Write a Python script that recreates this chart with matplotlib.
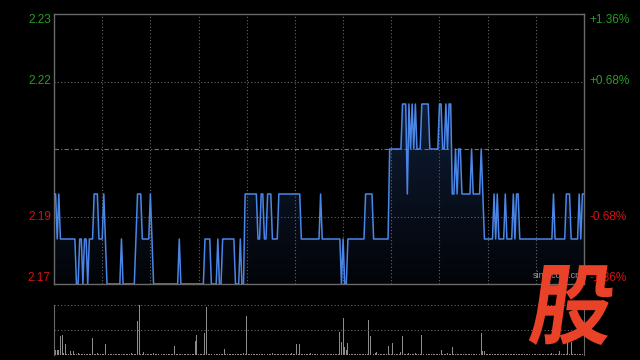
import numpy as np
import matplotlib
matplotlib.use('Agg')
import matplotlib.pyplot as plt
from matplotlib.colors import LinearSegmentedColormap
from matplotlib.patches import Polygon, PathPatch
from matplotlib.textpath import TextPath
from matplotlib.font_manager import FontProperties
from matplotlib.transforms import Affine2D

plt.rcParams['font.family'] = ['Liberation Sans', 'DejaVu Sans']

# price levels seen on the chart
levels = [2.175, 2.185, 2.195, 2.205, 2.215]
# run-length reading of the minute line (level index, number of minutes)
run_level = [2, 1, 2, 1, 0, 1, 0, 1, 0, 1, 2, 1, 2, 1, 0, 1, 0, 1, 2, 1, 2, 1,
             0, 1, 0, 1, 0, 1, 0, 1, 0, 1, 0, 2, 1, 2, 1, 2, 1, 2, 1, 2, 1,
             0, 1, 0, 1, 2, 1, 3, 4, 2, 4, 3, 4, 3, 4, 3, 4, 3, 4, 3, 4, 3,
             4, 2, 3, 2, 3, 2, 3, 2, 3, 2, 1, 2, 1, 2, 1, 2, 1, 2, 1, 2, 1,
             2, 1, 2, 1, 2, 1, 2]
run_len = [2, 1, 1, 10, 2, 2, 1, 2, 1, 3, 3, 3, 1, 1, 9, 1, 8, 1, 3, 5, 1, 1,
           16, 1, 15, 4, 4, 1, 2, 8, 3, 1, 2, 8, 2, 2, 2, 3, 4, 14, 12, 1, 12,
           1, 1, 2, 11, 5, 10, 8, 3, 1, 1, 1, 1, 1, 1, 3, 5, 6, 2, 2, 1, 1,
           2, 2, 1, 1, 2, 6, 1, 5, 1, 1, 6, 1, 1, 1, 4, 1, 4, 1, 1, 2, 21,
           1, 7, 3, 5, 1, 1, 2]
price = np.repeat(np.array(levels)[run_level], run_len)
prev_close = 2.205

y_ticks = [2.235, 2.22, 2.19, 2.175]
y_labels = ['2.23', '2.22', '2.19', '2.17']
pct_labels = ['+1.36%', '+0.68%', '-0.68%', '-1.36%']

# volume (top dotted line = 100), minutes not listed are tiny
vol_minute = [0, 1, 2, 3, 4, 5, 6, 7, 10, 12, 15, 24, 27, 32, 33, 48, 52, 53, 56,
              62, 75, 88, 89, 94, 95, 99, 106, 118, 120, 136, 148, 151, 153, 160,
              178, 179, 180, 181, 182, 183, 196, 197, 200, 201, 208, 211, 216,
              217, 221, 225, 229, 241, 245, 248, 266, 267, 268, 310, 315, 320, 322]
vol_value = [11, 11, 11, 11, 39, 41, 4, 23, 8, 9, 4, 35, 5, 23, 15, 5, 69, 100, 7,
             5, 19, 29, 41, 44, 97, 5, 13, 5, 79, 4, 4, 23, 23, 4,
             47, 27, 75, 17, 11, 25, 71, 39, 4, 7, 19, 25, 7,
             39, 5, 4, 41, 11, 4, 17, 45, 9, 9, 4, 9, 27, 27]
vol_small = 2

n = len(price)
x = np.arange(n)
volume = np.full(n, vol_small, dtype=float)
volume[vol_minute] = vol_value

fig = plt.figure(figsize=(6.4, 3.6), dpi=100, facecolor='black')
W, H = 640, 360

ax = fig.add_axes([54 / W, 76 / H, 530 / W, 270 / H])
ax.set_facecolor('black')

# gradient fill under the line
verts = np.column_stack([np.r_[x, x[::-1]], np.r_[price, np.full(n, levels[0])]])
clip = Polygon(verts, closed=True, facecolor='none', edgecolor='none')
ax.add_patch(clip)
cmap = LinearSegmentedColormap.from_list('fill', ['#020408', '#101d36'])
grad = np.linspace(0, 1, 256).reshape(-1, 1)
im = ax.imshow(grad, extent=[0, n - 1, levels[0], levels[-1]], origin='lower',
               aspect='auto', cmap=cmap, zorder=1)
im.set_clip_path(clip)

ax.plot(x, price, color='#4a86e8', lw=1.1, zorder=3)

grid_c = '#666666'
for xv in range(30, 330, 30):
    ax.axvline(xv, color=grid_c, lw=0.8, ls=(0, (1, 2)), zorder=2)
for yv in [2.22, 2.19]:
    ax.axhline(yv, color=grid_c, lw=0.8, ls=(0, (1, 2)), zorder=2)
ax.axhline(prev_close, color='#707070', lw=0.8, ls=(0, (4, 2, 1, 2)), zorder=2)

ax.set_xlim(0, n - 1)
ax.set_ylim(2.175, 2.235)
ax.set_xticks([])
ax.set_yticks([])
for s in ax.spines.values():
    s.set_color('#6a6a6a')
    s.set_linewidth(1)

green, red = '#22a022', '#d01414'
vas = ['top', 'center', 'center', 'bottom']
for yv, lab, pct, va in zip(y_ticks, y_labels, pct_labels, vas):
    c = green if yv > prev_close else red
    ax.text(-0.006, yv, lab, transform=ax.get_yaxis_transform(), ha='right',
            va=va, color=c, fontsize=8.5)
    ax.text(1.011, yv, pct, transform=ax.get_yaxis_transform(), ha='left',
            va=va, color=c, fontsize=8.5)

ax.text(0.903, 0.015, 'sina.com.cn', transform=ax.transAxes, color='#9a9a9a',
        fontsize=6.5, ha='left', va='bottom', zorder=4)

# volume panel
ax2 = fig.add_axes([54 / W, 5 / H, 530 / W, 50 / H])
ax2.set_facecolor('black')
ax2.bar(x, volume, width=0.6, color='#8c8c8c')
for yv in [100, 50]:
    ax2.axhline(yv, color=grid_c, lw=0.8, ls=(0, (1, 2)), clip_on=False)
ax2.set_xlim(0, n - 1)
ax2.set_ylim(0, 100)
ax2.set_xticks([])
ax2.set_yticks([])
for k in ['top', 'bottom']:
    ax2.spines[k].set_visible(False)
for k in ['left', 'right']:
    ax2.spines[k].set_color('#6a6a6a')

# logo glyph, slanted
ax3 = fig.add_axes([0, 0, 1, 1])
ax3.set_xlim(0, W)
ax3.set_ylim(0, H)
ax3.axis('off')
tp = TextPath((0, 0), '股', size=100,
              prop=FontProperties(family='Noto Sans CJK SC', weight='heavy'))
bb = tp.get_extents()
gx0, gx1, gy0, gy1 = 528, 618, 15, 95
slant = 0.14
sx = ((gx1 - gx0) - slant * (gy1 - gy0)) / bb.width
sy = (gy1 - gy0) / bb.height
tr = (Affine2D().translate(-bb.x0, -bb.y0).scale(sx, sy)
      .skew(np.arctan(slant), 0).translate(gx0, gy0))
ax3.add_patch(PathPatch(tr.transform_path(tp), facecolor='#ea4228',
                        edgecolor='none'))

fig.savefig('out.png', dpi=100, facecolor='black')
